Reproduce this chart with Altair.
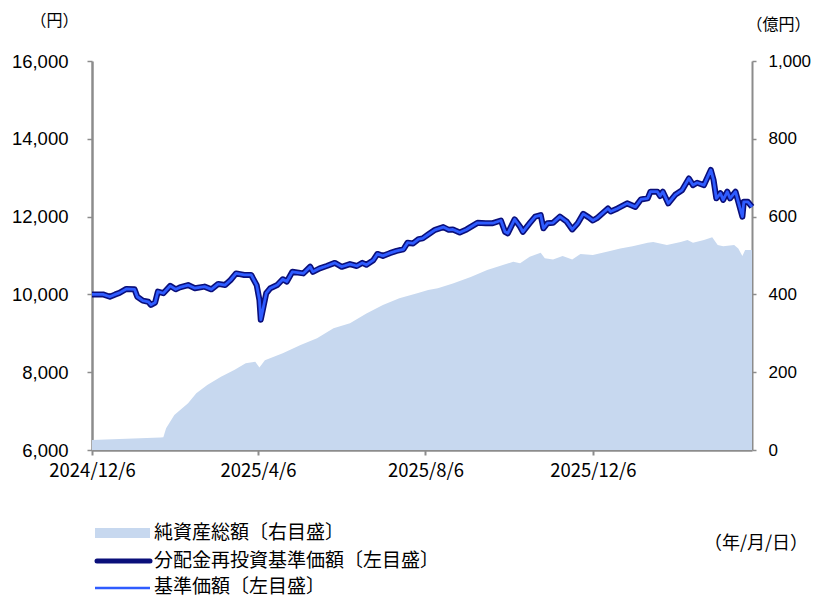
import altair as alt
import pandas as pd

# ---- data ----
start_date = "2024-12-06"
end_offset = 481

price_days = [0, 8, 13, 17, 20, 25, 31, 33, 37, 41, 43, 46, 48, 52, 57, 61, 64, 70, 75, 82,
              87, 92, 97, 101, 105, 111, 116, 120, 122, 123, 125, 127, 130, 135, 139, 142, 146, 154, 159, 161,
              166, 171, 177, 182, 188, 193, 197, 200, 205, 208, 212, 217, 222, 227, 230, 234, 238, 241, 245, 250,
              256, 260, 263, 268, 273, 281, 287, 292, 298, 301, 303, 308, 312, 314, 319, 323, 327, 329, 332, 336,
              341, 346, 350, 354, 358, 362, 365, 368, 376, 378, 383, 390, 396, 400, 405, 407, 412, 414, 416, 420,
              425, 430, 435, 438, 441, 446, 451, 453, 455, 458, 460, 463, 465, 469, 471, 474, 475, 478, 481]
price_values = [10000, 10000, 9940, 10000, 10040, 10140, 10130, 9940, 9840, 9810, 9730, 9790, 10070, 10030, 10220, 10130, 10180, 10240, 10160, 10200,
                10130, 10270, 10240, 10370, 10540, 10500, 10500, 10240, 9860, 9350, 9690, 10030, 10160, 10240, 10390, 10330, 10580, 10540, 10710, 10580,
                10670, 10730, 10810, 10710, 10780, 10730, 10810, 10760, 10880, 11040, 10990, 11060, 11120, 11160, 11330, 11310, 11420, 11440, 11540, 11660,
                11730, 11660, 11670, 11590, 11670, 11840, 11830, 11830, 11900, 11610, 11570, 11930, 11740, 11610, 11830, 12000, 12040, 11700, 11830, 11840,
                12000, 11870, 11670, 11830, 12070, 11980, 11900, 11960, 12210, 12130, 12210, 12340, 12250, 12440, 12470, 12640, 12640, 12530, 12640, 12340,
                12560, 12680, 12980, 12810, 12870, 12810, 13200, 12940, 12470, 12600, 12430, 12640, 12470, 12640, 12380, 12000, 12380, 12380, 12250]

asset_days = [0, 50, 52, 54, 60, 70, 76, 84, 94, 104, 112, 119, 122, 126, 139, 152, 164, 176, 188, 200,
              212, 224, 237, 245, 252, 263, 276, 288, 300, 307, 312, 319, 327, 330, 336, 343, 350, 356, 365, 376,
              385, 394, 405, 409, 419, 429, 434, 438, 446, 452, 456, 460, 468, 471, 474, 476, 481]
asset_values = [26, 32, 33, 56, 90, 120, 146, 167, 188, 206, 223, 227, 212, 231, 249, 270, 287, 313, 326, 351,
                373, 390, 403, 411, 416, 428, 445, 463, 476, 484, 480, 497, 507, 493, 490, 499, 490, 504, 501, 510,
                518, 524, 533, 535, 527, 535, 540, 533, 540, 547, 527, 524, 527, 518, 499, 514, 514]

x_tick_dates = ["2024-12-06", "2025-04-06", "2025-08-06", "2025-12-06"]
left_ticks = [6000, 8000, 10000, 12000, 14000, 16000]
right_ticks = [0, 200, 400, 600, 800, 1000]
legend_labels = ["純資産総額〔右目盛〕", "分配金再投資基準価額〔左目盛〕", "基準価額〔左目盛〕"]
left_title = "（円）"
right_title = "（億円）"
date_note = "（年/月/日）"

# ---- tables ----
t0 = pd.Timestamp(start_date)
price_df = pd.DataFrame({
    "date": (t0 + pd.to_timedelta(price_days, unit="D")).strftime("%Y-%m-%d"),
    "price": price_values,
})
asset_df = pd.DataFrame({
    "date": (t0 + pd.to_timedelta(asset_days, unit="D")).strftime("%Y-%m-%d"),
    "assets": asset_values,
})

def ms(d):
    return int(pd.Timestamp(d).value // 10**6)

x_domain = [ms(t0), ms(t0 + pd.Timedelta(days=end_offset))]

AXIS_GRAY = "#8c8c8c"
JP = "Noto Sans CJK JP"
LAT = "Liberation Sans"

x_enc = alt.X(
    "date:T",
    scale=alt.Scale(type="utc", domain=x_domain),
    axis=alt.Axis(
        values=[ms(d) for d in x_tick_dates],
        labelExpr="utcFormat(datum.value, '%Y/%-m/%-d')",
        title=None, grid=False, domainColor=AXIS_GRAY, domainWidth=2.5,
        tickColor=AXIS_GRAY, tickWidth=2, tickSize=5, labelPadding=6,
        labelFont=JP, labelFontSize=18.5, labelColor="black", labelAngle=0,
        labelFlush=False, labelOverlap=False,
    ),
)

area = alt.Chart(asset_df).mark_area(color="#c7d8ef", opacity=1).encode(
    x=x_enc,
    y=alt.Y(
        "assets:Q",
        scale=alt.Scale(domain=[0, 1000], nice=False, zero=False),
        axis=alt.Axis(
            orient="right", values=right_ticks, labelExpr="format(datum.value, ',')", grid=False,
            domainColor=AXIS_GRAY, domainWidth=2, tickColor=AXIS_GRAY, tickWidth=1.5,
            tickSize=4, labelPadding=12, labelFont=LAT, labelFontSize=17, labelColor="black",
            title=right_title, titleAngle=0, titleX=-6, titleY=-37, titleAlign="left",
            titleBaseline="middle", titleFont=JP, titleFontSize=16, titleFontWeight="normal",
            titleColor="black",
        ),
    ),
)

y_price = alt.Y(
    "price:Q",
    scale=alt.Scale(domain=[6000, 16000], nice=False, zero=False),
    axis=alt.Axis(
        orient="left", values=left_ticks, labelExpr="format(datum.value, ',')", grid=False,
        domainColor=AXIS_GRAY, domainWidth=2.5, tickColor=AXIS_GRAY, tickWidth=1.5,
        tickSize=5, labelPadding=19, labelFont=LAT, labelFontSize=18.5, labelColor="black",
        title=left_title, titleAngle=0, titleX=-62, titleY=-41, titleAlign="left",
        titleBaseline="middle", titleFont=JP, titleFontSize=16, titleFontWeight="normal",
        titleColor="black",
    ),
)

navy = alt.Chart(price_df).mark_line(color="#0a0f7a", strokeWidth=6, strokeJoin="round").encode(
    x=x_enc, y=y_price)
blue = alt.Chart(price_df).mark_line(color="#2f5cff", strokeWidth=2.8, strokeJoin="round").encode(
    x=x_enc, y=y_price)
lines = alt.layer(navy, blue)

# ---- legend (drawn below the plot) ----
def label_chart(text, px, py, size=19, align="left"):
    return alt.Chart(pd.DataFrame({"label": [text]})).mark_text(
        align=align, baseline="middle", font=JP, fontSize=size, color="black"
    ).encode(text="label:N", x=alt.value(px), y=alt.value(py))

leg_rect = alt.Chart(pd.DataFrame({"k": [0]})).mark_rect(color="#c7d8ef").encode(
    x=alt.value(3), x2=alt.value(58), y=alt.value(467), y2=alt.value(477))
leg_navy = alt.Chart(pd.DataFrame({"k": [0]})).mark_rule(color="#0a0f7a", strokeWidth=5, strokeCap="round").encode(
    x=alt.value(5), x2=alt.value(58), y=alt.value(500))
leg_blue = alt.Chart(pd.DataFrame({"k": [0]})).mark_rule(color="#2f5cff", strokeWidth=2.5).encode(
    x=alt.value(3), x2=alt.value(58), y=alt.value(527))

legend_layers = [
    leg_rect, leg_navy, leg_blue,
    label_chart(legend_labels[0], 62, 472),
    label_chart(legend_labels[1], 62, 500),
    label_chart(legend_labels[2], 62, 526),
    label_chart(date_note, 612, 483, size=18),
]

chart = alt.layer(area, lines, *legend_layers).resolve_scale(y="independent").properties(
    width=660, height=389,
    padding={"left": 84, "top": 53, "right": 59, "bottom": 151},
    autosize=alt.AutoSizeParams(type="none"),
    background="white",
).configure_view(stroke=None)

chart.save("out.html", embed_options={"renderer": "svg", "actions": False})
